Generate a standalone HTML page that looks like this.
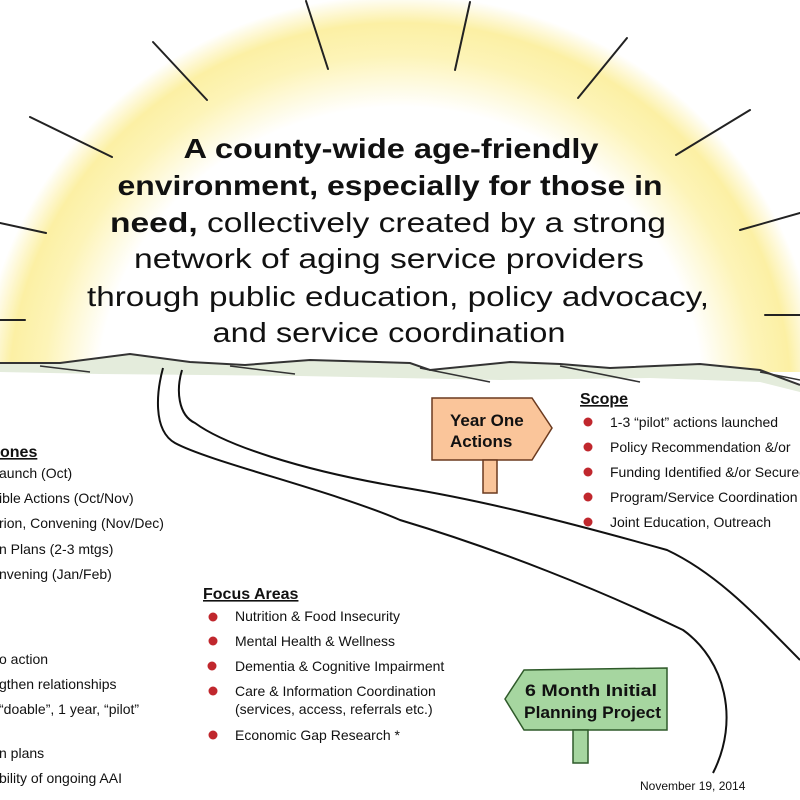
<!DOCTYPE html>
<html><head><meta charset="utf-8"><style>
html,body{margin:0;padding:0;background:#fff}
svg{display:block}
text{font-family:"Liberation Sans",sans-serif;fill:#111}
</style></head><body>
<svg width="800" height="800" viewBox="0 0 800 800" xmlns="http://www.w3.org/2000/svg">
<defs>
<radialGradient id="sun" cx="400" cy="395" r="400" gradientUnits="userSpaceOnUse" gradientTransform="translate(400 395) scale(1.05 1) translate(-400 -395)">
<stop offset="0" stop-color="#fff"/>
<stop offset="0.72" stop-color="#fff"/>
<stop offset="0.85" stop-color="#fdf4b8"/>
<stop offset="0.93" stop-color="#fcf0a4"/>
<stop offset="1" stop-color="#fff" stop-opacity="1"/>
</radialGradient>
</defs>
<rect width="800" height="800" fill="#fff"/>
<rect x="0" y="0" width="800" height="372" fill="url(#sun)"/>
<g stroke="#222" stroke-width="2" stroke-linecap="round">
<line x1="306" y1="1" x2="328" y2="69"/>
<line x1="470" y1="2" x2="455" y2="70"/>
<line x1="153" y1="42" x2="207" y2="100"/>
<line x1="627" y1="38" x2="578" y2="98"/>
<line x1="30" y1="117" x2="112" y2="157"/>
<line x1="750" y1="110" x2="676" y2="155"/>
<line x1="0" y1="223" x2="46" y2="233"/>
<line x1="800" y1="213" x2="740" y2="230"/>
<line x1="0" y1="320" x2="25" y2="320"/>
<line x1="765" y1="315" x2="800" y2="315"/>
</g>
<path d="M0 363 L60 363 L130 354 L190 362 L245 365 L310 360 L410 363 L430 370 L510 362 L560 364 L610 368 L700 364 L760 370 L800 385 L800 392 L760 382 L650 378 L500 380 L300 376 L100 374 L0 372 Z" fill="#e4ecdc"/>
<g stroke="#333" stroke-width="2" fill="none">
<polyline points="0,363 60,363 130,354 190,362 245,365 310,360 410,363 430,370 510,362 560,364 610,368 700,364 760,370 800,385"/>
<polyline points="40,366 90,372" stroke-width="1.5"/>
<polyline points="230,366 295,374" stroke-width="1.5"/>
<polyline points="420,368 490,382" stroke-width="1.5"/>
<polyline points="560,366 640,382" stroke-width="1.5"/>
<polyline points="760,372 800,380" stroke-width="1.5"/>
</g>
<g stroke="#111" stroke-width="2" fill="none">
<path d="M163 368 C157 390 152 430 175 443 C210 462 330 490 400 520 C500 550 600 590 683 630 C725 660 740 720 713 773"/>
<path d="M182 370 C176 390 178 415 195 423 C225 445 300 470 400 487 C480 500 560 520 667 550 C720 575 760 620 800 660"/>
</g>
<g text-anchor="middle" font-size="28">
<text x="391" y="158" font-weight="bold" textLength="415" lengthAdjust="spacingAndGlyphs">A county-wide age-friendly</text>
<text x="390" y="195" font-weight="bold" textLength="545" lengthAdjust="spacingAndGlyphs">environment, especially for those in</text>
<text x="388" y="232" textLength="556" lengthAdjust="spacingAndGlyphs"><tspan font-weight="bold">need,</tspan> collectively created by a strong</text>
<text x="389" y="268" textLength="510" lengthAdjust="spacingAndGlyphs">network of aging  service providers</text>
<text x="398" y="306" textLength="622" lengthAdjust="spacingAndGlyphs">through public education, policy advocacy,</text>
<text x="389" y="342" textLength="353" lengthAdjust="spacingAndGlyphs">and service coordination</text>
</g>
<polygon points="432,398 532,398 552,428 532,460 432,460" fill="#fac59a" stroke="#6b3a1f" stroke-width="1.5"/>
<rect x="483" y="460" width="14" height="33" fill="#fac59a" stroke="#6b3a1f" stroke-width="1.5"/>
<text x="450" y="426" font-size="17" font-weight="bold">Year One</text>
<text x="450" y="447" font-size="17" font-weight="bold">Actions</text>
<polygon points="505,699 524,670 667,668 667,730 524,730" fill="#a6d6a0" stroke="#2f5a2a" stroke-width="1.5"/>
<rect x="573" y="730" width="15" height="33" fill="#a6d6a0" stroke="#2f5a2a" stroke-width="1.5"/>
<text x="525" y="696" font-size="17" font-weight="bold" textLength="132" lengthAdjust="spacingAndGlyphs">6 Month Initial</text>
<text x="524" y="718" font-size="17" font-weight="bold" textLength="137" lengthAdjust="spacingAndGlyphs">Planning Project</text>
<text x="580" y="404" font-size="16" font-weight="bold" text-decoration="underline">Scope</text>
<g fill="#c0272d"><circle cx="588" cy="422" r="4.5"/><circle cx="588" cy="447" r="4.5"/><circle cx="588" cy="472" r="4.5"/><circle cx="588" cy="497" r="4.5"/><circle cx="588" cy="522" r="4.5"/></g>
<g font-size="14">
<text x="610" y="427">1-3 “pilot” actions launched</text>
<text x="610" y="452">Policy Recommendation &amp;/or</text>
<text x="610" y="477">Funding Identified &amp;/or Secured</text>
<text x="610" y="502">Program/Service Coordination</text>
<text x="610" y="527">Joint Education, Outreach</text>
</g>
<text x="203" y="599" font-size="16" font-weight="bold" text-decoration="underline">Focus Areas</text>
<g fill="#c0272d"><circle cx="213" cy="617" r="4.5"/><circle cx="213" cy="641" r="4.5"/><circle cx="212" cy="666" r="4.5"/><circle cx="213" cy="691" r="4.5"/><circle cx="213" cy="735" r="4.5"/></g>
<g font-size="14">
<text x="235" y="621">Nutrition &amp; Food Insecurity</text>
<text x="235" y="646">Mental Health &amp; Wellness</text>
<text x="235" y="671">Dementia &amp; Cognitive Impairment</text>
<text x="235" y="696">Care &amp; Information Coordination</text>
<text x="235" y="714">(services, access, referrals etc.)</text>
<text x="235" y="740">Economic Gap Research *</text>
</g>
<text x="0" y="457" font-size="16" font-weight="bold" text-decoration="underline">ones</text>
<g font-size="14">
<text x="-1" y="478">aunch (Oct)</text>
<text x="-1" y="503">ible Actions (Oct/Nov)</text>
<text x="-1" y="528">rion, Convening (Nov/Dec)</text>
<text x="-1" y="554">n Plans (2-3 mtgs)</text>
<text x="-1" y="579">nvening (Jan/Feb)</text>
<text x="-1" y="664">o action</text>
<text x="-1" y="689">gthen relationships</text>
<text x="-1" y="714">“doable”, 1 year, “pilot”</text>
<text x="-1" y="758">n plans</text>
<text x="-1" y="783">bility of ongoing AAI</text>
</g>
<text x="640" y="790" font-size="12">November 19, 2014</text>
</svg>
</body></html>
